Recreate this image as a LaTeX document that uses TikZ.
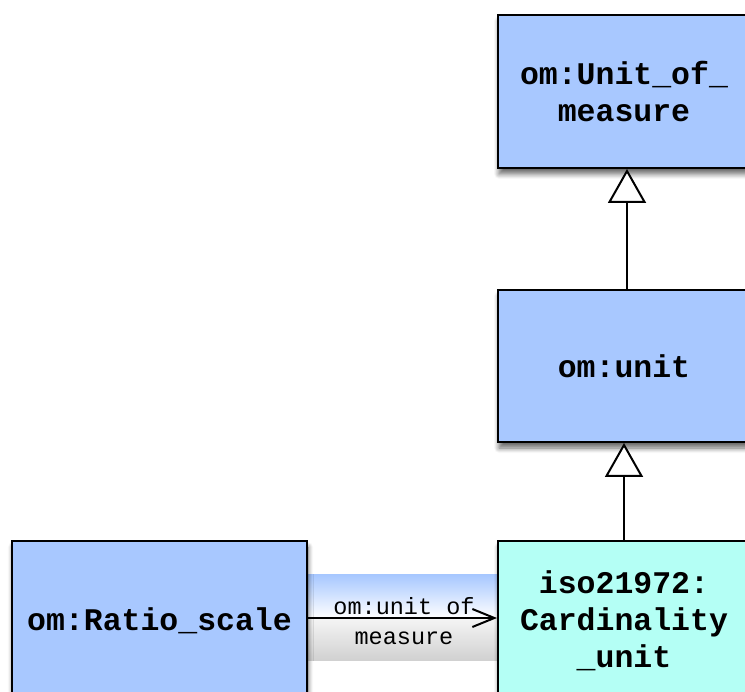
\documentclass[tikz,border=0pt]{standalone}
\usepackage{fontspec}
\setmonofont{Liberation Mono}
\usetikzlibrary{arrows.meta,shadows.blur}
\definecolor{umlblue}{RGB}{168,200,255}
\definecolor{umlcyan}{RGB}{180,255,245}
\tikzset{
  classbox/.style={draw=black, line width=2pt, minimum height=153pt, align=center,
    font=\ttfamily\bfseries\fontsize{31.5}{37}\selectfont,
    blur shadow={shadow xshift=1pt, shadow yshift=-6pt, shadow blur steps=8, shadow blur radius=5pt, shadow opacity=60}},
  genarrow/.style={draw=black, line width=2pt, -{Triangle[open, length=34pt, width=38pt, fill=white]}},
  assocarrow/.style={draw=black, line width=2pt, -{Straight Barb[length=22pt, width=18pt]}},
  assoclabel/.style={align=center, font=\ttfamily\fontsize{23.5}{30}\selectfont, inner sep=0pt}
}
\begin{document}
\begin{tikzpicture}[x=1pt,y=-1pt]
\useasboundingbox (0,0) rectangle (745,692);
\clip (0,0) rectangle (745,692);
% label background gradient
\shade[top color=umlblue, bottom color=white] (308,575) rectangle (497,618);
\shade[top color=white!96!black, bottom color=white!82!black] (308,618) rectangle (497,660);
\node[classbox, fill=umlblue, minimum width=252pt] (uom) at (624,91.5) {om:Unit\_of\_\\measure};
\node[classbox, fill=umlblue, minimum width=252pt, minimum height=152pt] (unit) at (624,366) {om:unit};
\node[classbox, fill=umlcyan, minimum width=252pt, minimum height=159pt] (card) at (624,620.5) {iso21972:\\Cardinality\\\_unit};
\node[classbox, fill=umlblue, minimum width=295pt, minimum height=159pt] (ratio) at (159.5,620.5) {om:Ratio\_scale};
\draw[genarrow] ([xshift=3pt]unit.north) -- ([xshift=3pt]uom.south);
\draw[genarrow] (card.north) -- (unit.south);
\draw[assocarrow] (ratio.east |- 0,618) -- (card.west |- 0,618);
\node[assoclabel] (lbl) at (404,621) {om:unit of\\measure};
\end{tikzpicture}
\end{document}
